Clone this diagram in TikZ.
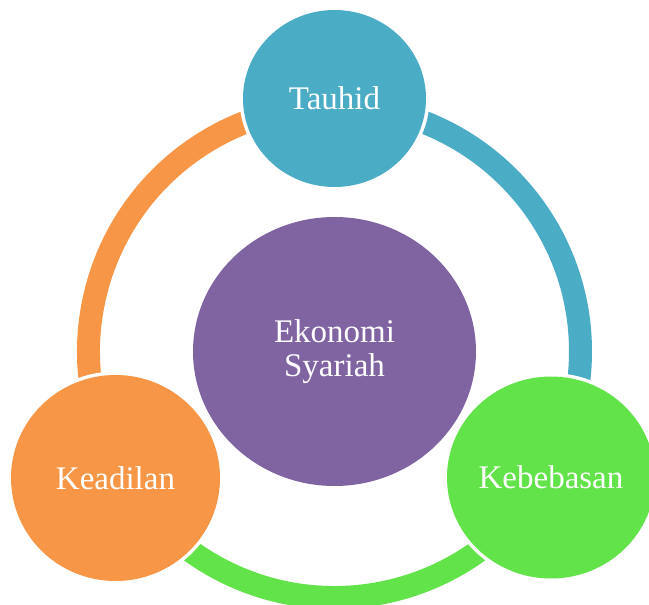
\documentclass[tikz,border=0pt]{standalone}
\usepackage{fontspec}
\setmainfont{Liberation Serif}
\usetikzlibrary{shapes.geometric,backgrounds}
\definecolor{cblue}{HTML}{4BACC6}
\definecolor{corange}{HTML}{F79646}
\definecolor{cpurple}{HTML}{8064A2}
\definecolor{cgreen}{HTML}{62E349}
\tikzset{
  bubble/.style={ellipse, inner sep=0pt, text=white, align=center,
    font=\fontsize{33}{34}\selectfont,
    preaction={draw=white, line width=7pt}},
  ringarc/.style={line width=23pt, line cap=butt}
}
\begin{document}
\begin{tikzpicture}[x=1pt,y=-1pt]
\useasboundingbox (0,0) rectangle (649,605);
\coordinate (c) at (334.5,351.5);
\node[bubble, fill=cpurple, minimum width=283pt, minimum height=269pt] (eko) at (c) {Ekonomi\\Syariah};
\node[bubble, fill=cblue, minimum width=183pt, minimum height=177pt] (tau) at (334.5,98.5) {Tauhid};
\node[bubble, fill=corange, minimum width=209pt, minimum height=206pt] (kea) at (115.5,478) {Keadilan};
\node[bubble, fill=cgreen, minimum width=208pt, minimum height=202pt] (keb) at (551,477.5) {Kebebasan};
\begin{pgfonlayer}{background}
\draw[ringarc, cblue] (c) ++(-90:246) arc[start angle=-90, end angle=30, radius=246];
\draw[ringarc, cgreen] (c) ++(30:246) arc[start angle=30, end angle=150, radius=246];
\draw[ringarc, corange] (c) ++(150:246) arc[start angle=150, end angle=270, radius=246];
\end{pgfonlayer}
\end{tikzpicture}
\end{document}
